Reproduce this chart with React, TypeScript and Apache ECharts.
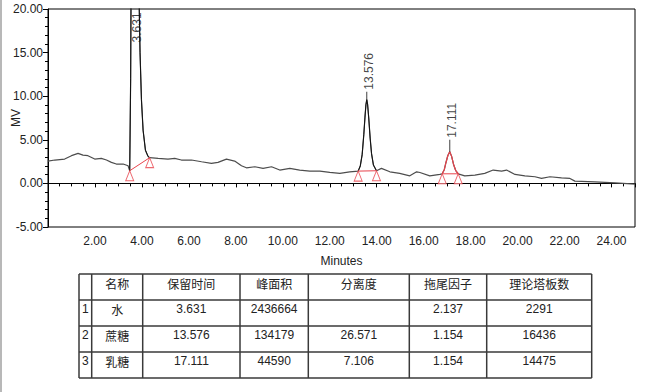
import React, { useEffect, useRef } from "react";
import * as echarts from "echarts";

// Chromatogram trace (minutes, mV)
const timeMin = [
  0.0, 0.29, 0.71, 1.0, 1.28, 1.49, 1.7, 1.99, 2.27, 2.49, 2.7, 2.91, 3.2, 3.41,
  3.48, 3.52, 3.56, 3.6, 3.63, 3.68, 3.75, 3.82, 3.88, 3.92, 3.98, 4.05, 4.15, 4.26,
  4.33, 4.69, 5.11, 5.4, 5.68, 6.11, 6.54, 6.96, 7.24, 7.6, 7.95, 8.24, 8.45, 8.81,
  9.16, 9.52, 9.87, 10.3, 10.72, 11.15, 11.58, 12.0, 12.43, 12.85,
  13.21, 13.3, 13.38, 13.45, 13.5, 13.54, 13.576, 13.61, 13.66, 13.72, 13.78, 13.86, 13.99,
  14.2, 14.56, 14.98, 15.41, 15.7, 15.84, 16.26, 16.69,
  16.79, 16.88, 16.95, 17.03, 17.111, 17.19, 17.27, 17.36, 17.47,
  17.75, 18.18, 18.6, 18.96, 19.32, 19.53, 19.89, 20.31, 20.74, 21.02, 21.38, 21.87,
  22.23, 22.44, 23.29, 24.15, 25.0,
];
const signalMV = [
  2.56, 2.68, 2.79, 3.18, 3.45, 3.25, 3.18, 2.79, 2.87, 2.68, 2.41, 2.22, 2.22, 2.02,
  1.45, 12, 35, 80, 100, 85, 55, 32, 21, 15, 9.6, 6.1, 3.8, 3.1,
  2.95, 2.87, 2.79, 2.87, 2.68, 2.68, 2.48, 2.3, 2.41, 2.79, 2.56, 2.02, 1.79, 1.91,
  1.72, 1.91, 1.53, 1.72, 1.53, 1.41, 1.41, 1.26, 1.15, 1.33,
  1.41, 2.0, 3.3, 5.6, 7.6, 9.0, 9.6, 9.1, 7.5, 5.2, 3.4, 2.1, 1.45,
  1.72, 1.33, 1.15, 0.87, 1.33, 1.25, 0.87, 1.03,
  1.1, 1.6, 2.4, 3.2, 3.63, 3.1, 2.2, 1.5, 1.1,
  0.87, 0.95, 1.15, 1.53, 1.41, 1.53, 1.03, 0.87, 0.76, 0.57, 0.76, 0.64,
  0.57, 0.26, 0.18, 0.07, -0.08,
];

// Peak integration
const peakStartTime = [3.48, 13.21, 16.79];
const peakStartValue = [1.45, 1.41, 1.1];
const peakEndTime = [4.33, 13.99, 17.47];
const peakEndValue = [2.95, 1.45, 1.1];

// Result table
const tableHeaders = ["名称", "保留时间", "峰面积", "分离度", "拖尾因子", "理论塔板数"];
const compoundNames = ["水", "蔗糖", "乳糖"];
const retentionTimes = [3.631, 13.576, 17.111];
const peakAreas = [2436664, 134179, 44590];
const resolutions: (number | null)[] = [null, 26.571, 7.106];
const tailingFactors = [2.137, 1.154, 1.154];
const plateCounts = [2291, 16436, 14475];

const X_MAX = 25;
const Y_MIN = -5;
const Y_MAX = 20;
const RED = "#e8434c";
const NUM_FONT = "Liberation Sans, Arial, sans-serif";
const CJK_FONT = "Noto Sans CJK SC, sans-serif";

function buildTable() {
  const colX = [79, 91.7, 142.7, 240, 308.3, 409.3, 486.7, 591.7];
  const rowY = [274, 300, 326, 352, 378];
  const els: any[] = [];
  const lineStyle = { stroke: "#3a3a3a", lineWidth: 1.5 };
  rowY.forEach((y) =>
    els.push({ type: "line", shape: { x1: colX[0], y1: y, x2: colX[colX.length - 1], y2: y }, style: lineStyle })
  );
  colX.forEach((x) =>
    els.push({ type: "line", shape: { x1: x, y1: rowY[0], x2: x, y2: rowY[rowY.length - 1] }, style: lineStyle })
  );
  const cell = (text: string, c: number, r: number, cjk: boolean) => {
    els.push({
      type: "text",
      x: (colX[c] + colX[c + 1]) / 2,
      y: rowY[r] + 9,
      style: {
        text,
        fill: "#222",
        font: `12px ${cjk ? CJK_FONT : NUM_FONT}`,
        align: "center",
        verticalAlign: "middle",
      },
    });
  };
  tableHeaders.forEach((h, i) => cell(h, i + 1, 0, true));
  compoundNames.forEach((name, i) => {
    const r = i + 1;
    els.push({
      type: "text",
      x: colX[0] + 3,
      y: rowY[r] + 9,
      style: { text: String(r), fill: "#222", font: `12px ${NUM_FONT}`, align: "left", verticalAlign: "middle" },
    });
    cell(name, 1, r, true);
    cell(retentionTimes[i].toFixed(3), 2, r, false);
    cell(String(peakAreas[i]), 3, r, false);
    const rs = resolutions[i];
    cell(rs == null ? "" : rs.toFixed(3), 4, r, false);
    cell(tailingFactors[i].toFixed(3), 5, r, false);
    cell(String(plateCounts[i]), 6, r, false);
  });
  els.push({ type: "line", shape: { x1: 1, y1: 0, x2: 1, y2: 392 }, style: { stroke: "#a0a0a0", lineWidth: 1.5 } });
  return els;
}

export default function App() {
  const ref = useRef<HTMLDivElement>(null);
  useEffect(() => {
    if (!ref.current) return;
    const chart = echarts.init(ref.current, undefined, { renderer: "svg" });
    const trace = timeMin.map((t, i) => [t, signalMV[i]]);
    const peakSeg = (i: number) => trace.filter(([t]) => t >= peakStartTime[i] && t <= peakEndTime[i]);
    const apexValue = peakStartTime.map((_, i) => Math.max(...peakSeg(i).map((p) => p[1])));
    const baselineSeries = peakStartTime.map((s, i) => ({
      type: "line",
      data: [
        [s, peakStartValue[i]],
        [peakEndTime[i], peakEndValue[i]],
      ],
      showSymbol: false,
      lineStyle: { color: RED, width: 1 },
      silent: true,
      z: 4,
    }));
    const triangles: any[] = [];
    peakStartTime.forEach((s, i) => {
      triangles.push([s, peakStartValue[i]]);
      triangles.push([peakEndTime[i], peakEndValue[i]]);
    });
    const labelDistance = [0, 10, 14];
    const labelData = retentionTimes.map((rt, i) => {
      const clipped = apexValue[i] > Y_MAX;
      return {
        value: [rt, clipped ? Y_MAX - 0.05 : apexValue[i]],
        label: clipped
          ? { position: [4, 3], align: "right" }
          : { position: [2, -labelDistance[i]], align: "left" },
      };
    });
    const tickData = retentionTimes
      .map((rt, i) => ({ rt, v: apexValue[i], len: labelDistance[i] - 2 }))
      .filter((d) => d.v <= Y_MAX)
      .map((d) => ({ value: [d.rt, d.v], symbolSize: [1, d.len], symbolOffset: [0, -d.len / 2] }));

    const option: any = {
      animation: false,
      grid: {
        left: 48,
        right: 15,
        top: 9,
        bottom: 165,
        show: true,
        borderColor: "#000",
        borderWidth: 1,
        containLabel: false,
        outerBoundsMode: "none",
      },
      xAxis: {
        type: "value",
        min: 0,
        max: X_MAX,
        interval: 2,
        axisLine: { show: true, lineStyle: { color: "#000", width: 1 } },
        axisTick: { show: true, length: 4, lineStyle: { color: "#000" } },
        minorTick: { show: true, splitNumber: 4, length: 3, lineStyle: { color: "#000" } },
        splitLine: { show: false },
        axisLabel: {
          showMinLabel: false,
          showMaxLabel: false,
          formatter: (v: number) => v.toFixed(2),
          color: "#222",
          fontFamily: NUM_FONT,
          fontSize: 12,
          margin: 8,
        },
        name: "Minutes",
        nameLocation: "middle",
        nameGap: 28,
        nameMoveOverlap: false,
        nameTextStyle: { color: "#222", fontFamily: NUM_FONT, fontSize: 12 },
      },
      yAxis: {
        type: "value",
        min: Y_MIN,
        max: Y_MAX,
        interval: 5,
        axisLine: { show: true, lineStyle: { color: "#000", width: 1 } },
        axisTick: { show: true, length: 5, lineStyle: { color: "#000" } },
        minorTick: { show: true, splitNumber: 5, length: 3, lineStyle: { color: "#000" } },
        splitLine: { show: false },
        axisLabel: {
          formatter: (v: number) => v.toFixed(2),
          color: "#222",
          fontFamily: NUM_FONT,
          fontSize: 12,
          margin: 5,
        },
        name: "MV",
        nameLocation: "middle",
        nameGap: 26,
        nameMoveOverlap: false,
        nameTextStyle: { color: "#222", fontFamily: NUM_FONT, fontSize: 12 },
      },
      graphic: { elements: buildTable() },
      series: [
        {
          type: "line",
          data: trace,
          showSymbol: false,
          lineStyle: { color: "#4d4d4d", width: 1.2 },
          clip: true,
          silent: true,
          z: 2,
        },
        {
          type: "line",
          data: peakSeg(0),
          showSymbol: false,
          lineStyle: { color: "#111", width: 1 },
          clip: true,
          silent: true,
          z: 3,
        },
        {
          type: "line",
          data: peakSeg(1),
          showSymbol: false,
          lineStyle: { color: "#111", width: 1 },
          clip: true,
          silent: true,
          z: 3,
        },
        {
          type: "line",
          data: peakSeg(2),
          showSymbol: false,
          lineStyle: { color: RED, width: 1.2 },
          clip: true,
          silent: true,
          z: 3,
        },
        ...baselineSeries,
        {
          type: "scatter",
          data: triangles,
          symbol: "triangle",
          symbolSize: [8, 10],
          symbolOffset: [0, 5],
          itemStyle: { color: "#fff", borderColor: RED, borderWidth: 1 },
          silent: true,
          z: 5,
        },
        {
          type: "scatter",
          data: tickData,
          symbol: "rect",
          itemStyle: { color: "#111" },
          silent: true,
          z: 5,
        },
        {
          type: "scatter",
          data: labelData,
          symbolSize: 0,
          silent: true,
          z: 6,
          label: {
            show: true,
            formatter: (p: any) => p.value[0].toFixed(3),
            rotate: 90,
            verticalAlign: "middle",
            color: "#111",
            fontFamily: NUM_FONT,
            fontSize: 12,
          },
        },
      ],
    };
    chart.setOption(option);
    return () => chart.dispose();
  }, []);
  return (
    <div
      ref={ref}
      style={{ position: "fixed", left: 0, top: 0, width: 650, height: 392, background: "#fff" }}
    />
  );
}
